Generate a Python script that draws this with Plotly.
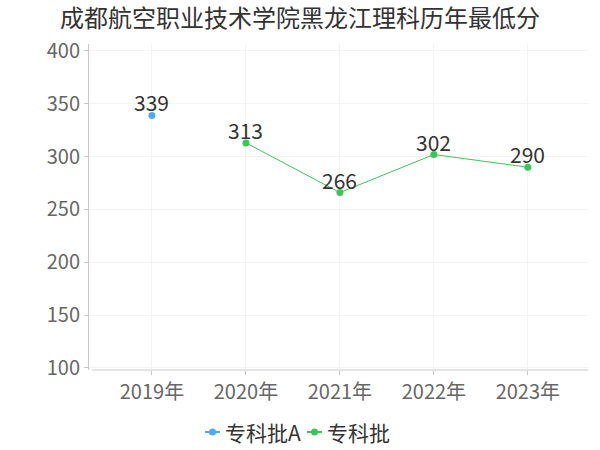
import plotly.graph_objects as go

years = ["2019年", "2020年", "2021年", "2022年", "2023年"]
series_a_name = "专科批A"
series_a_x = ["2019年"]
series_a_y = [339]
series_b_name = "专科批"
series_b_x = ["2020年", "2021年", "2022年", "2023年"]
series_b_y = [313, 266, 302, 290]
y_ticks = [100, 150, 200, 250, 300, 350, 400]

font_family = "Noto Sans CJK SC, Noto Sans, sans-serif"
color_a = "#4ea8f7"
color_b = "#3cc459"

fig = go.Figure()
fig.add_trace(go.Scatter(
    x=series_a_x, y=series_a_y, name=series_a_name, mode="lines+markers",
    line=dict(color=color_a, width=1), marker=dict(size=7, color=color_a),
    cliponaxis=False, showlegend=False,
))
fig.add_trace(go.Scatter(
    x=series_b_x, y=series_b_y, name=series_b_name, mode="lines+markers",
    line=dict(color=color_b, width=1), marker=dict(size=7, color=color_b),
    cliponaxis=False, showlegend=False,
))

L, R, T, B = 89, 12, 44, 80
pw = 600 - L - R
ph = 450 - T - B


def px_x(px):
    return (px - L) / pw


def px_y(py):
    return (450 - B - py) / ph


annotations = []
for xs, ys in [(series_a_x, series_a_y), (series_b_x, series_b_y)]:
    for xv, yv in zip(xs, ys):
        annotations.append(dict(x=xv, y=yv, xref="x", yref="y", text=str(yv), showarrow=False,
                                xanchor="center", yanchor="middle", yshift=13,
                                font=dict(size=21, color="#333333")))

shapes = [dict(type="line", xref="paper", yref="paper", x0=px_x(92), x1=1, y0=0, y1=0,
               line=dict(color="#c8c8c8", width=1))]
legend_items = [(series_a_name, color_a, 205), (series_b_name, color_b, 307)]
ly = px_y(432)
for name, col, x0 in legend_items:
    shapes.append(dict(type="line", xref="paper", yref="paper", x0=px_x(x0), x1=px_x(x0 + 15),
                       y0=ly, y1=ly, line=dict(color=col, width=2)))
    shapes.append(dict(type="circle", xref="paper", yref="paper",
                       x0=px_x(x0 + 4), x1=px_x(x0 + 11), y0=px_y(435.5), y1=px_y(428.5),
                       fillcolor=col, line=dict(color=col, width=0)))
    annotations.append(dict(text=name, xref="paper", yref="paper", x=px_x(x0 + 18), y=ly,
                            xanchor="left", yanchor="middle", showarrow=False,
                            font=dict(size=21, color="#333333")))

fig.update_layout(
    width=600, height=450,
    margin=dict(l=L, r=R, t=T, b=B, autoexpand=False),
    paper_bgcolor="white", plot_bgcolor="white",
    font=dict(family=font_family, color="#666666"),
    title=dict(text="成都航空职业技术学院黑龙江理科历年最低分", x=0.5, xanchor="center",
               y=1 - 19 / 450, yanchor="middle", font=dict(size=24, color="#333333")),
    showlegend=False,
    xaxis=dict(type="category", categoryorder="array", categoryarray=years,
               range=[-0.67, 4.64], showgrid=True, gridcolor="#f3f3f3",
               showline=False, ticks="outside", ticklen=4, tickcolor="#c8c8c8",
               tickfont=dict(size=20, color="#666666"), zeroline=False, automargin=False),
    yaxis=dict(range=[98.1, 406.6], tickvals=y_ticks, showgrid=True, gridcolor="#f3f3f3",
               showline=True, linecolor="#c8c8c8", linewidth=1,
               ticks="outside", ticklen=4, tickcolor="#c8c8c8",
               tickfont=dict(size=20, color="#666666"), zeroline=False, automargin=False),
    shapes=shapes,
    annotations=annotations,
)
fig.write_html("out.html", config={"displayModeBar": False},
               post_script="document.body.style.margin='0';document.body.style.overflow='hidden';")
